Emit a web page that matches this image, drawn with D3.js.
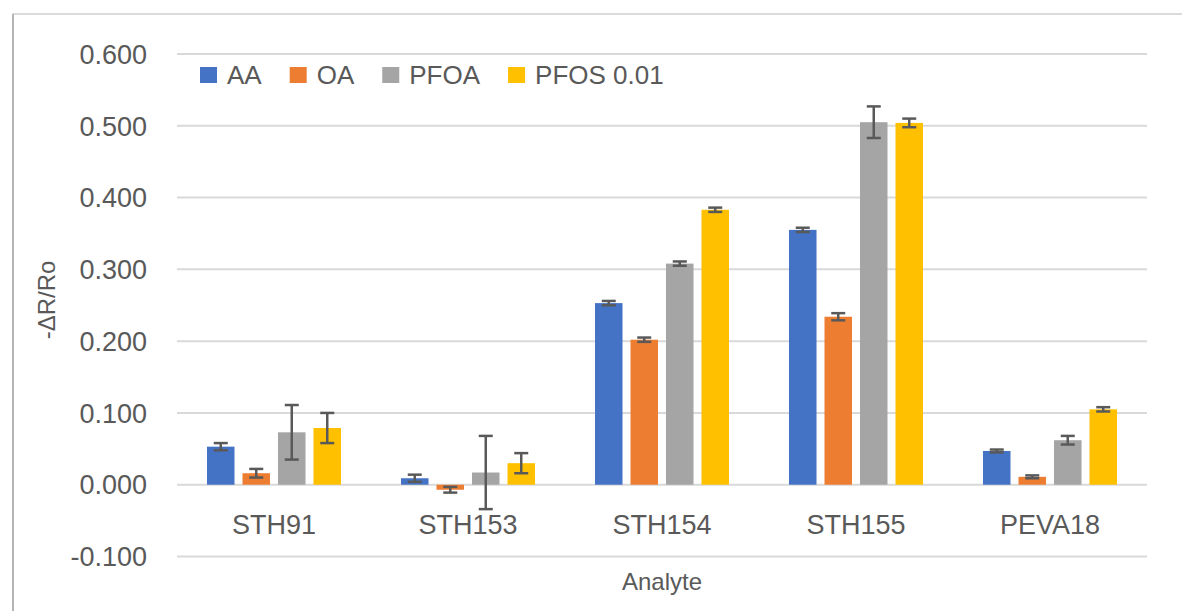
<!DOCTYPE html>
<html>
<head>
<meta charset="utf-8">
<script src="https://cdn.jsdelivr.net/npm/d3@7"></script>
<style>
  body { margin: 0; background: #fff; }
  svg { display: block; font-family: "Liberation Sans", Arial, sans-serif; }
</style>
</head>
<body>
<div id="chart"></div>
<script>
// data
const analytes = ["STH91", "STH153", "STH154", "STH155", "PEVA18"];
const series = ["AA", "OA", "PFOA", "PFOS 0.01"];
const colors = ["#4472C4", "#ED7D31", "#A5A5A5", "#FFC000"];
const valuesAA = [0.053, 0.009, 0.253, 0.355, 0.047];
const valuesOA = [0.016, -0.007, 0.202, 0.234, 0.011];
const valuesPFOA = [0.073, 0.017, 0.308, 0.505, 0.062];
const valuesPFOS = [0.079, 0.030, 0.383, 0.504, 0.105];
const errAA = [0.005, 0.005, 0.003, 0.003, 0.002];
const errOA = [0.006, 0.004, 0.003, 0.005, 0.002];
const errPFOA = [0.038, 0.051, 0.003, 0.022, 0.006];
const errPFOS = [0.021, 0.014, 0.003, 0.006, 0.003];
const yTicks = [-0.1, 0, 0.1, 0.2, 0.3, 0.4, 0.5, 0.6];

const allValues = [valuesAA, valuesOA, valuesPFOA, valuesPFOS];
const allErrs = [errAA, errOA, errPFOA, errPFOS];

const width = 1182, height = 611;
const plot = { left: 177, right: 1147, top: 54, bottom: 556.5 };

const svg = d3.select("#chart").append("svg")
    .attr("width", width)
    .attr("height", height);

// chart frame (only left and top edges are visible in the crop)
svg.append("rect")
    .attr("x", 13).attr("y", 14)
    .attr("width", 1250).attr("height", 700)
    .attr("fill", "#fff")
    .attr("stroke", "#d0d0d0")
    .attr("stroke-width", 1.5);
svg.append("line")
    .attr("x1", 13).attr("x2", 13).attr("y1", 14).attr("y2", height)
    .attr("stroke", "#b5b5b5").attr("stroke-width", 2);

// scales
const y = d3.scaleLinear().domain([-0.1, 0.6]).range([plot.bottom, plot.top]);
const x0 = d3.scaleBand().domain(analytes).range([plot.left, plot.right]);
const x1 = d3.scaleBand().domain(series).range([0, x0.bandwidth()])
    .paddingInner(0.225).paddingOuter(0.845);

// gridlines
svg.append("g").selectAll("line")
    .data(yTicks)
    .join("line")
    .attr("x1", plot.left).attr("x2", plot.right)
    .attr("y1", d => y(d)).attr("y2", d => y(d))
    .attr("stroke", "#d9d9d9")
    .attr("stroke-width", 2);

// y tick labels (plain hyphen for negatives, like Excel)
const fmt = d => d3.format(".3f")(d).replace("−", "-");
svg.append("g").selectAll("text")
    .data(yTicks)
    .join("text")
    .attr("x", 147)
    .attr("y", d => y(d))
    .attr("dy", "0.36em")
    .attr("text-anchor", "end")
    .attr("font-size", 27)
    .attr("fill", "#595959")
    .text(fmt);

// bars
const rows = [];
series.forEach((s, i) => {
    analytes.forEach((a, j) => {
        rows.push({ series: s, analyte: a, value: allValues[i][j], err: allErrs[i][j], color: colors[i] });
    });
});

svg.append("g").selectAll("rect")
    .data(rows)
    .join("rect")
    .attr("x", d => x0(d.analyte) + x1(d.series))
    .attr("width", x1.bandwidth())
    .attr("y", d => y(Math.max(0, d.value)))
    .attr("height", d => Math.abs(y(d.value) - y(0)))
    .attr("fill", d => d.color);

// error bars
const capW = 14;
const eb = svg.append("g")
    .attr("stroke", "#595959")
    .attr("stroke-width", 2.5)
    .selectAll("g")
    .data(rows)
    .join("g")
    .attr("transform", d => `translate(${x0(d.analyte) + x1(d.series) + x1.bandwidth() / 2},0)`);
eb.append("line")
    .attr("y1", d => y(d.value + d.err))
    .attr("y2", d => y(d.value - d.err));
eb.append("line")
    .attr("x1", -capW / 2).attr("x2", capW / 2)
    .attr("y1", d => y(d.value + d.err)).attr("y2", d => y(d.value + d.err));
eb.append("line")
    .attr("x1", -capW / 2).attr("x2", capW / 2)
    .attr("y1", d => y(d.value - d.err)).attr("y2", d => y(d.value - d.err));

// category labels
svg.append("g").selectAll("text")
    .data(analytes)
    .join("text")
    .attr("x", d => x0(d) + x0.bandwidth() / 2)
    .attr("y", 524.5)
    .attr("dy", "0.36em")
    .attr("text-anchor", "middle")
    .attr("font-size", 27)
    .attr("fill", "#595959")
    .text(d => d);

// axis titles
svg.append("text")
    .attr("x", (plot.left + plot.right) / 2)
    .attr("y", 581)
    .attr("dy", "0.36em")
    .attr("text-anchor", "middle")
    .attr("font-size", 24)
    .attr("fill", "#595959")
    .text("Analyte");

svg.append("text")
    .attr("transform", "translate(46,300) rotate(-90)")
    .attr("dy", "0.36em")
    .attr("text-anchor", "middle")
    .attr("font-size", 24)
    .attr("fill", "#595959")
    .text("-ΔR/Ro");

// legend
const legend = svg.append("g").attr("transform", "translate(200,75)");
let lx = 0;
series.forEach((s, i) => {
    const item = legend.append("g").attr("transform", `translate(${lx},0)`);
    item.append("rect")
        .attr("x", 0).attr("y", -8)
        .attr("width", 17).attr("height", 16)
        .attr("fill", colors[i]);
    const t = item.append("text")
        .attr("x", 27)
        .attr("dy", "0.36em")
        .attr("font-size", 26)
        .attr("fill", "#595959")
        .text(s);
    lx += 27 + t.node().getComputedTextLength() + 28;
});
</script>
</body>
</html>
